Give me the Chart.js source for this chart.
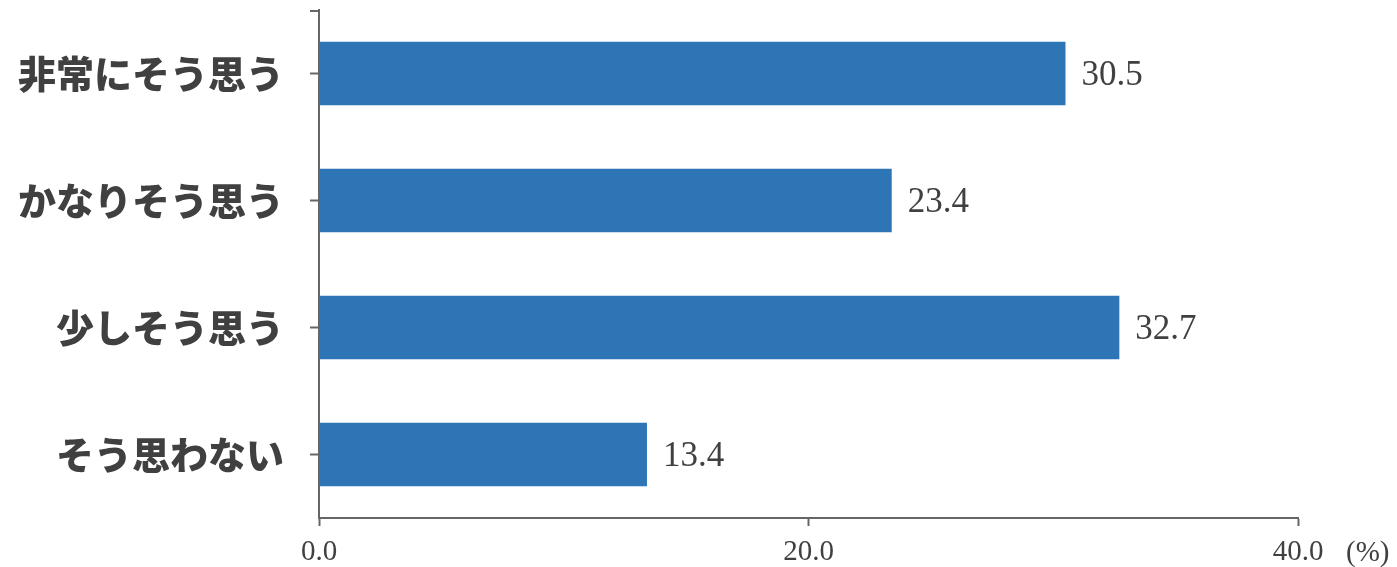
<!DOCTYPE html>
<html lang="ja">
<head>
<meta charset="utf-8">
<title>思う度合い</title>
<script src="https://cdn.jsdelivr.net/npm/chart.js@4.4.1/dist/chart.umd.min.js"></script>
<style>
  html, body { margin: 0; padding: 0; background: #fff; overflow: hidden; }
  #barChart { display: block; }
</style>
</head>
<body>
<canvas id="barChart" width="1397" height="567"></canvas>
<script>
// categories and percentages
var categories = ["非常にそう思う", "かなりそう思う", "少しそう思う", "そう思わない"];
var percents = [30.5, 23.4, 32.7, 13.4];
var xTicks = [0, 20, 40];
var unitLabel = "(%)";

var axisColor = "#666666";
var textColor = "#404040";
var serifFont = "'Liberation Serif', 'DejaVu Serif', serif";

// value labels at bar ends, the top tick of the y axis and the unit label
var extrasPlugin = {
    id: 'extras',
    afterDatasetsDraw: function (chart) {
        var ctx = chart.ctx;
        var meta = chart.getDatasetMeta(0);
        ctx.save();
        ctx.fillStyle = textColor;
        ctx.font = "35px " + serifFont;
        ctx.textAlign = 'left';
        ctx.textBaseline = 'middle';
        meta.data.forEach(function (bar, i) {
            ctx.fillText(percents[i].toFixed(1), bar.x + 16, bar.y + 2);
        });

        var area = chart.chartArea;
        ctx.strokeStyle = axisColor;
        ctx.lineWidth = 2;
        ctx.beginPath();
        ctx.moveTo(area.left - 9, area.top + 1);
        ctx.lineTo(area.left, area.top + 1);
        ctx.stroke();

        ctx.font = "29px " + serifFont;
        ctx.textAlign = 'left';
        ctx.textBaseline = 'middle';
        ctx.fillText(unitLabel, 1346, 553);
        ctx.restore();
    }
};

var chart = new Chart(document.getElementById("barChart"), {
    type: 'bar',
    data: {
        labels: categories,
        datasets: [{
            data: percents,
            backgroundColor: "#2E75B6",
            borderWidth: 0,
            barPercentage: 0.5,
            categoryPercentage: 1.0
        }]
    },
    options: {
        indexAxis: 'y',
        responsive: false,
        animation: false,
        devicePixelRatio: 1,
        layout: { padding: { top: 10, right: 99, left: 0, bottom: 0 } },
        plugins: {
            legend: { display: false },
            tooltip: { enabled: false }
        },
        scales: {
            x: {
                type: 'linear',
                min: 0,
                max: 40,
                afterBuildTicks: function (scale) {
                    scale.ticks = xTicks.map(function (v) { return { value: v }; });
                },
                afterFit: function (scale) {
                    scale.height = 49;
                    scale.paddingLeft = 0;
                    scale.paddingRight = 0;
                },
                border: { color: axisColor, width: 2 },
                grid: {
                    display: true,
                    drawOnChartArea: false,
                    drawTicks: true,
                    tickLength: 8,
                    tickColor: axisColor,
                    tickWidth: 2
                },
                ticks: {
                    color: textColor,
                    font: { family: serifFont, size: 29 },
                    padding: 9,
                    maxRotation: 0,
                    callback: function (v) { return Number(v).toFixed(1); }
                }
            },
            y: {
                type: 'category',
                afterFit: function (scale) {
                    scale.width = 319;
                    scale.paddingTop = 0;
                    scale.paddingBottom = 0;
                },
                border: { color: axisColor, width: 2 },
                grid: {
                    display: true,
                    offset: false,
                    drawOnChartArea: false,
                    drawTicks: true,
                    tickLength: 9,
                    tickColor: axisColor,
                    tickWidth: 2
                },
                ticks: {
                    color: textColor,
                    font: { family: "'Noto Sans CJK JP', 'Noto Sans', sans-serif", size: 38, weight: 900 },
                    padding: 26,
                    autoSkip: false
                }
            }
        }
    },
    plugins: [extrasPlugin]
});
</script>
</body>
</html>
